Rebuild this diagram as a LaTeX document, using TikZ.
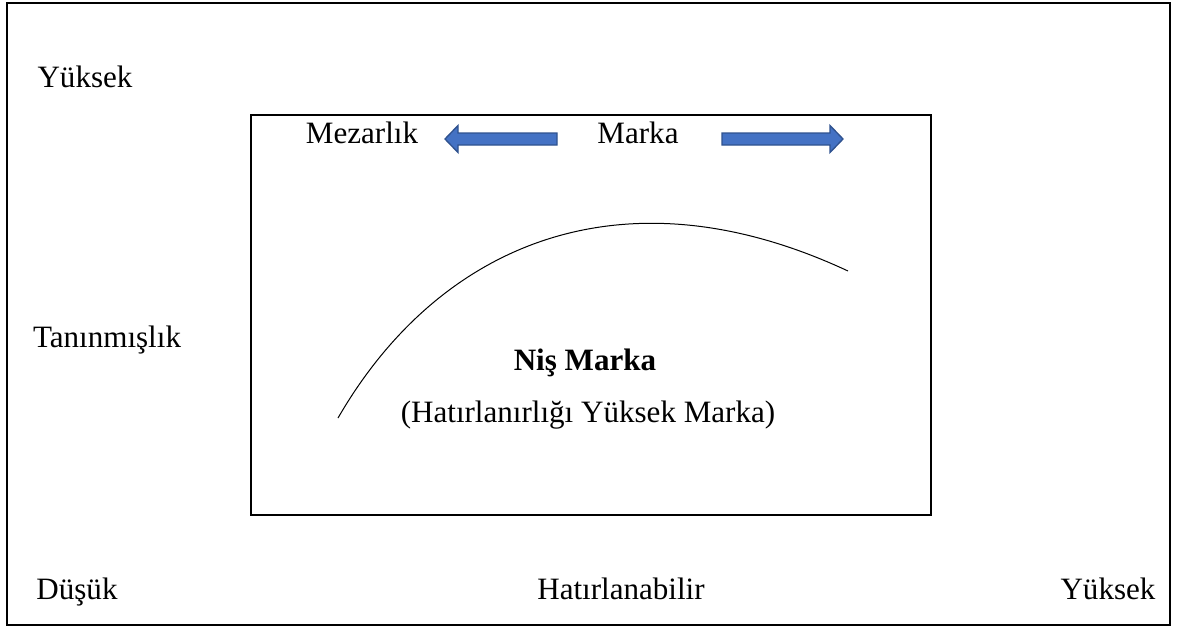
\documentclass[tikz,border=0pt]{standalone}
\usepackage{fontspec}
\setmainfont{Liberation Serif}
\usepackage{xcolor}
\usepackage{tikz}
\usetikzlibrary{calc,positioning}
\definecolor{arrfill}{HTML}{4472C4}
\definecolor{arrline}{HTML}{2F528F}
\tikzset{
  frm/.style={draw=black,line width=1.5pt},
  lbl/.style={anchor=base,inner sep=0pt,font=\fontsize{23.3}{28}\selectfont},
  blockarr/.style={fill=arrfill,draw=arrline,line width=1pt,line join=miter}
}
\begin{document}
\begin{tikzpicture}[x=0.75pt,y=-0.75pt]
\useasboundingbox (0,0) rectangle (1177,628);
\draw[frm] (7,3) rectangle (1170,625);
\draw[frm] (251,115) rectangle (931,515);
% axis labels
\node[lbl] (ytop) at (85,87) {Yüksek};
\node[lbl] (tan) at (107,347) {Tanınmışlık};
\node[lbl] (dus) at (77,599) {Düşük};
\node[lbl] (hat) at (621,599) {Hatırlanabilir};
\node[lbl] (ybot) at (1108,599) {Yüksek};
% top row
\node[lbl] (mez) at (362,143) {Mezarlık};
\node[lbl] (mrk) at (638,143) {Marka};
\draw[blockarr] (445,139) -- (458,125.5) -- (458,133) -- (557,133) -- (557,145) -- (458,145) -- (458,152.5) -- cycle;
\draw[blockarr] (843,139) -- (830,125.5) -- (830,133) -- (722,133) -- (722,145) -- (830,145) -- (830,152.5) -- cycle;
% curve
\coordinate (cs) at (338,418);
\coordinate (ce) at (848,271);
\draw[line width=0.75pt] (cs) .. controls (438,245) and (621,165) .. (ce);
\node[lbl,font=\fontsize{23.3}{28}\selectfont\bfseries] (nis) at (585,370) {Niş Marka};
\node[lbl] (hyk) at (588,422) {(Hatırlanırlığı Yüksek Marka)};
\end{tikzpicture}
\end{document}
